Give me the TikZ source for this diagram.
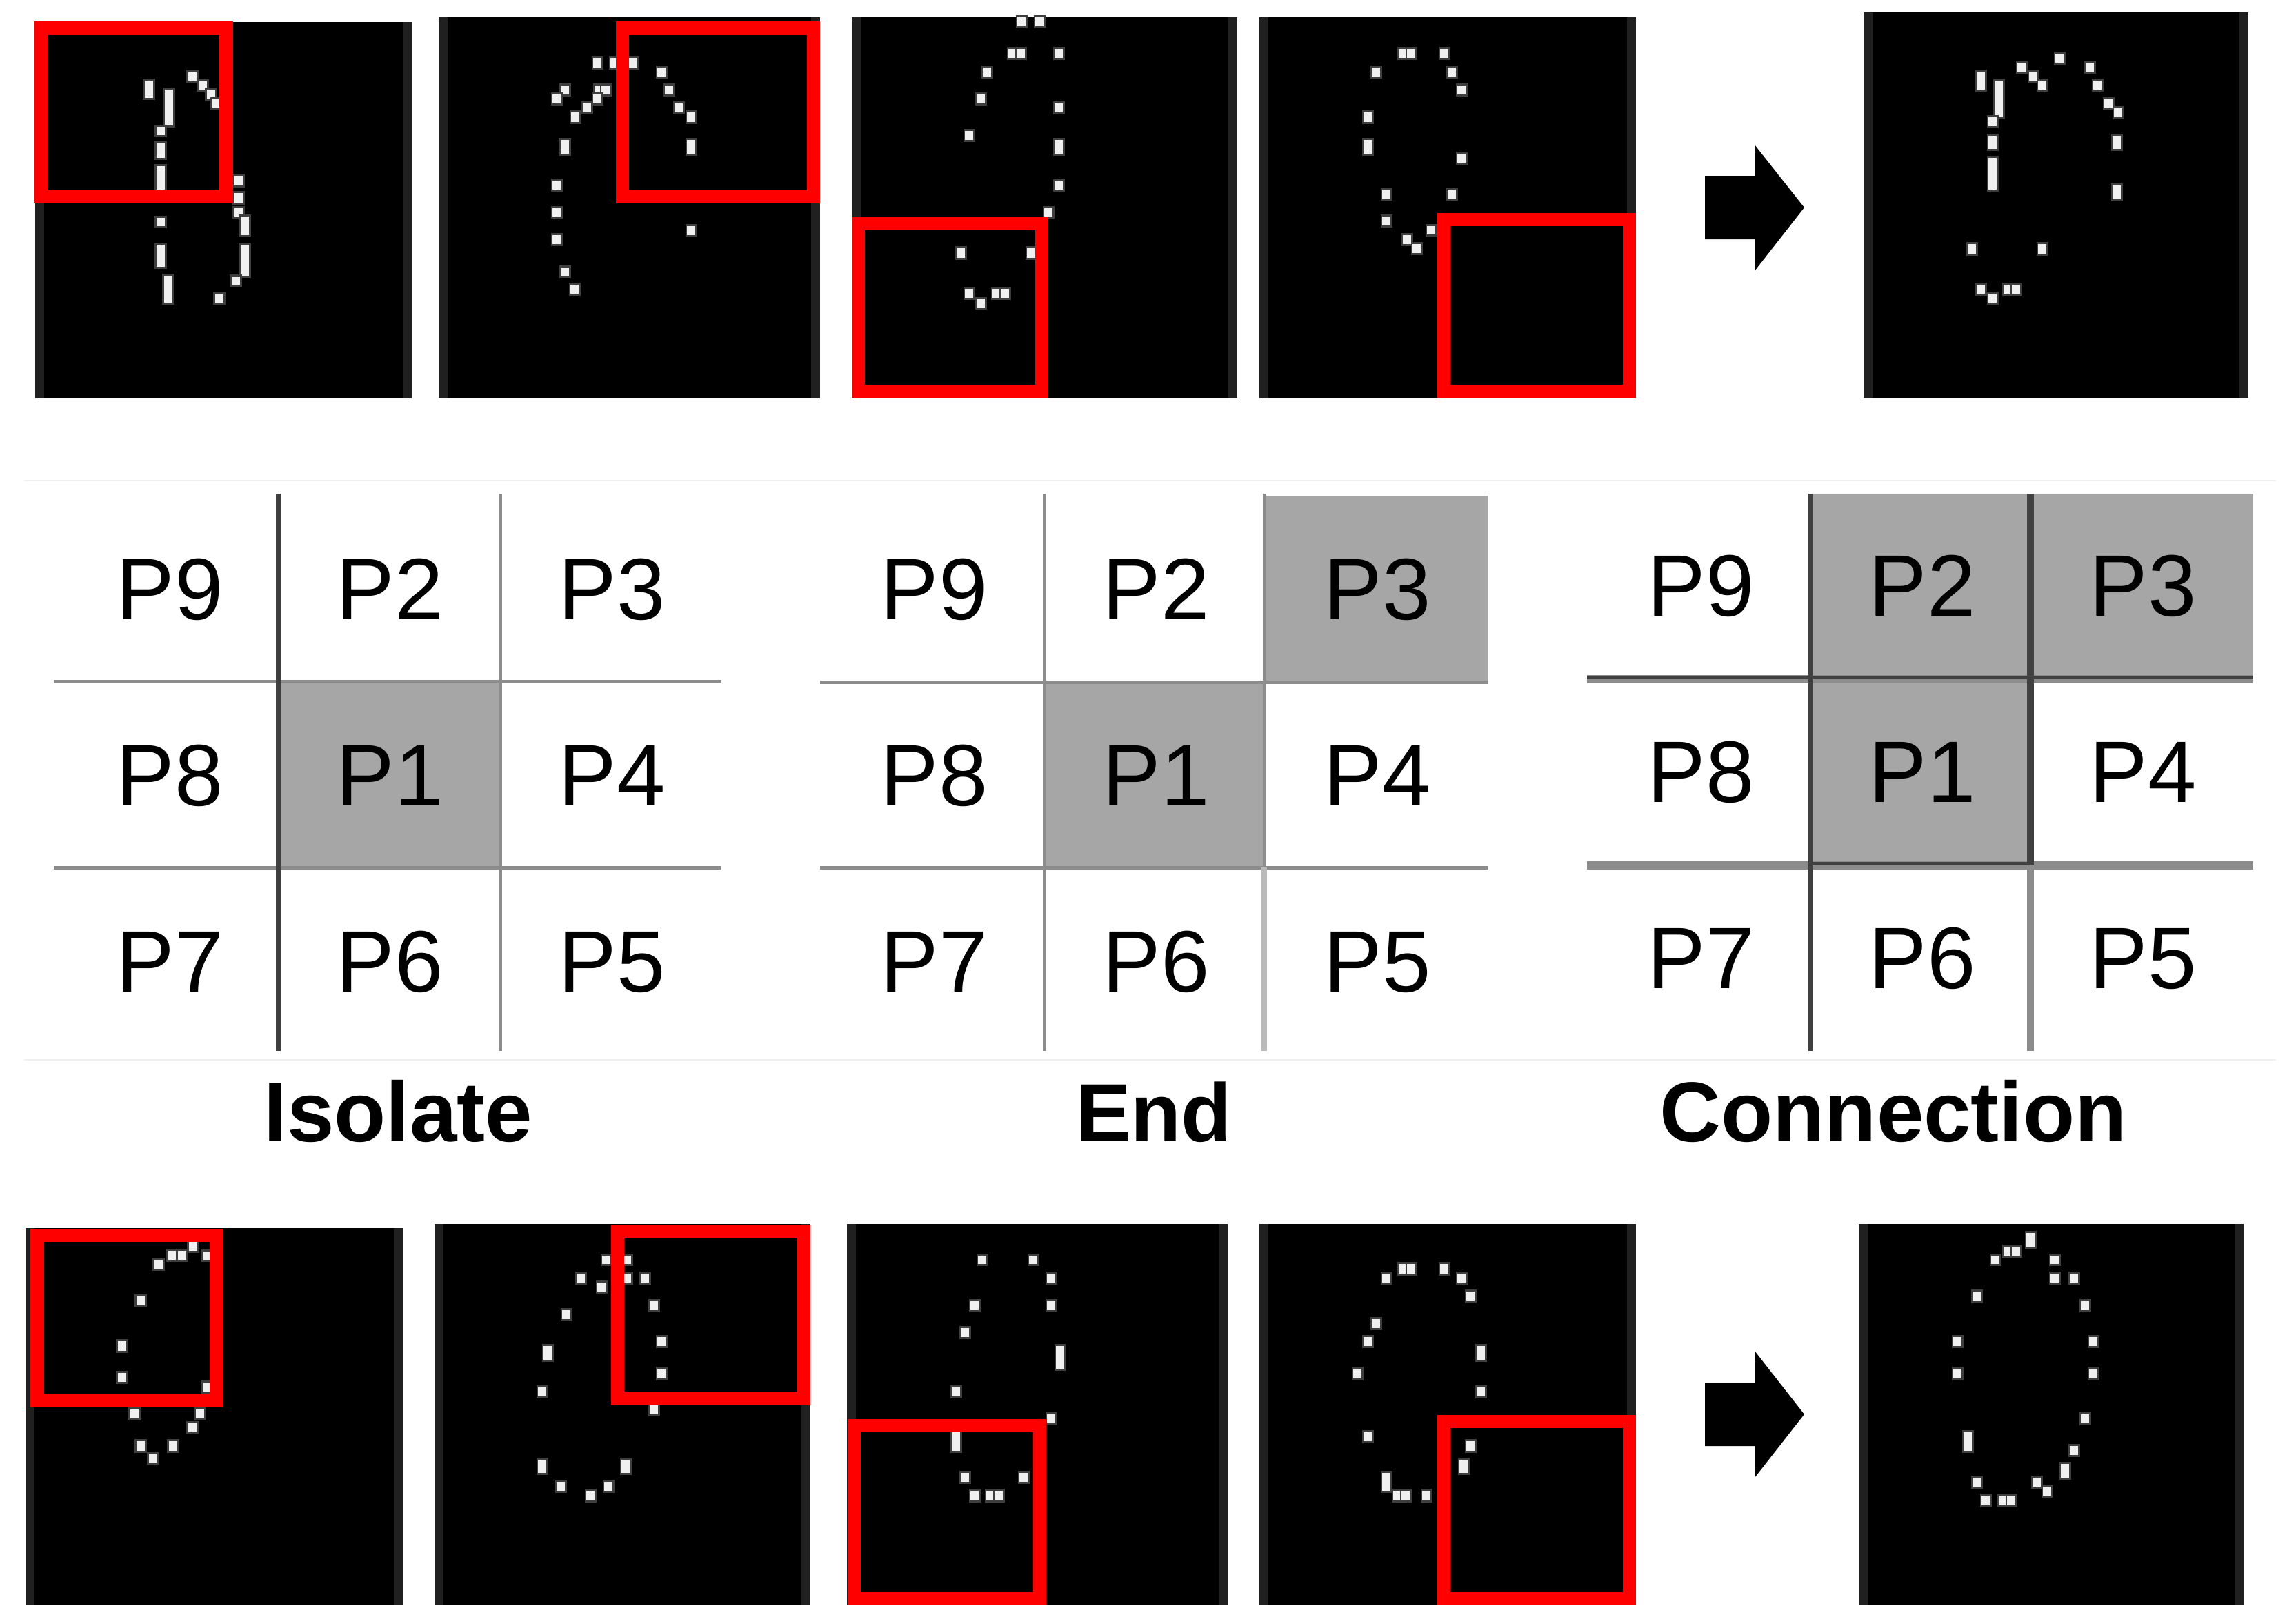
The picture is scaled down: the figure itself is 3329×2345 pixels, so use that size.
\documentclass[tikz,border=0pt]{standalone}
\usepackage{fontspec}
\setmainfont{Liberation Sans}
\usepackage{xcolor}
\usetikzlibrary{positioning}
\definecolor{cellgrey}{RGB}{166,166,166}
\definecolor{linegrey}{RGB}{140,140,140}
\definecolor{linedark}{RGB}{64,64,64}
\definecolor{bandgrey}{RGB}{32,32,32}
\definecolor{halogrey}{RGB}{62,62,62}
\definecolor{pixwhite}{RGB}{240,240,240}
\definecolor{framered}{RGB}{255,0,0}
\definecolor{hairgrey}{RGB}{240,240,240}
% black tile with slightly lighter side bands
\newcommand{\tile}[4]{
  \fill[bandgrey] (#1,#2) rectangle (#3,#4);
  \fill[black] (#1+13,#2) rectangle (#3-13,#4);
}
% bright strokes of a digit: x / top / bottom
\newcommand{\strokes}[1]{
  \foreach \sx/\sa/\sb in {#1} {
    \draw[pixhalo] (\sx,\sa) -- (\sx,\sb);
    \draw[pixcore] (\sx,\sa) -- (\sx,\sb);
  }
}

\begin{document}
\begin{tikzpicture}[x=0.01cm, y=-0.01cm,
    pixhalo/.style={draw=halogrey, line width=0.17cm, shorten <=-0.03cm, shorten >=-0.03cm},
    pixcore/.style={draw=pixwhite, line width=0.12cm},
    redbox/.style={draw=framered, line width=0.19cm},
    blockarrow/.style={fill=black},
    shade/.style={fill=cellgrey},
    gridlight/.style={draw=linegrey, line width=0.05cm},
    griddark/.style={draw=linedark, line width=0.07cm},
    hair/.style={draw=hairgrey, line width=0.02cm},
    cell/.style={anchor=base, inner sep=0pt, font=\fontsize{36}{40}\selectfont},
    caption/.style={anchor=base, inner sep=0pt, font=\fontsize{35}{40}\selectfont\bfseries}]
\useasboundingbox (0,0) rectangle (3329,2345);

% top row
\tile{51}{32}{597}{577}
\strokes{216/117/142, 245/130/182, 233/184/196, 233/208/229, 233/241/275, 279/105/117,
  294/118/130, 306/130/144, 314/144/156, 346/255/269, 346/280/295, 346/302/314,
  355/314/341, 233/316/328, 233/355/387, 355/355/400, 342/401/413, 244/400/439, 318/427/439}
\draw[redbox] (60,41) rectangle (328,285);

\tile{636}{25}{1189}{577}
\strokes{866/84/98, 891/84/98, 918/84/98, 959/98/111, 970/124/137, 819/124/137, 868/124/137,
  878/124/137, 807/137/150, 866/137/150, 851/150/163, 834/163/177, 984/150/163, 1002/163/177,
  819/203/223, 1002/203/223, 807/262/275, 807/302/314, 1002/328/341, 807/341/354,
  819/388/400, 833/413/426}
\draw[redbox] (902,41) rectangle (1179,285);

\tile{1235}{25}{1794}{577}
\strokes{1481/25/38, 1507/25/38, 1468/71/84, 1480/71/84, 1535/71/84, 1431/98/111, 1422/137/150,
  1535/150/163, 1405/190/203, 1535/203/223, 1535/263/275, 1520/302/314, 1393/360/374,
  1495/360/374, 1405/419/432, 1445/419/432, 1457/419/432, 1422/433/446}
\draw[redbox] (1244,324) rectangle (1510,567);

\tile{1826}{25}{2372}{577}
\strokes{2034/71/84, 2046/71/84, 2094/71/84, 1995/98/111, 2105/98/111, 2119/124/137, 1983/163/177,
  1983/203/223, 2119/223/236, 2010/275/288, 2105/275/288, 2010/314/327, 2040/341/354,
  2054/354/367, 2075/328/340}
\draw[redbox] (2093,318) rectangle (2362,567);

\fill[blockarrow] (2472,255) -- (2544,255) -- (2544,210) -- (2616,301)
  -- (2544,393) -- (2544,347) -- (2472,347) -- cycle;

\tile{2702}{18}{3260}{577}
\strokes{2986/78/91, 2931/91/104, 2948/104/117, 2961/117/130, 3030/91/104, 3041/117/130,
  2872/104/130, 2898/117/170, 2889/170/183, 2889/197/216, 2889/229/275, 3057/144/157,
  3071/157/170, 3069/197/216, 3069/269/289, 2859/354/368, 2961/354/368, 2872/413/426,
  2911/413/426, 2923/413/426, 2889/426/439}

% neighbourhood grids
\draw[hair] (35,697) -- (3300,697);
\draw[hair] (35,1537) -- (3300,1537);

% isolate
\fill[shade] (403,988) rectangle (725,1258);
\draw[gridlight] (78,988) -- (1046,988);
\draw[gridlight] (78,1258) -- (1046,1258);
\draw[griddark] (403,716) -- (403,1524);
\draw[gridlight] (725,716) -- (725,1524);
\foreach \lab/\cx/\cy in {P9/246/898, P2/565/898, P3/887/898, P8/246/1168, P1/565/1168,
    P4/887/1168, P7/246/1438, P6/565/1438, P5/887/1438}
  \node[cell] (iso\lab) at (\cx,\cy) {\lab};
\node[caption] (isolate) at (577,1655) {Isolate};

% end
\fill[shade] (1833,719) rectangle (2158,989);
\fill[shade] (1514,989) rectangle (1833,1258);
\draw[gridlight] (1189,989) -- (2158,989);
\draw[gridlight] (1189,1258) -- (2158,1258);
\draw[gridlight] (1514,716) -- (1514,1524);
\draw[gridlight] (1833,716) -- (1833,1258);
\draw[gridlight, draw=linegrey!60, line width=0.08cm] (1833,1258) -- (1833,1524);
\foreach \lab/\cx/\cy in {P9/1354/898, P2/1676/898, P3/1997/898, P8/1354/1168, P1/1676/1168,
    P4/1997/1168, P7/1354/1438, P6/1676/1438, P5/1997/1438}
  \node[cell] (end\lab) at (\cx,\cy) {\lab};
\node[caption, font=\fontsize{34}{40}\selectfont\bfseries] (endpoint) at (1673,1655) {End};

% connection
\fill[shade] (2625,716) rectangle (3267,983);
\fill[shade] (2625,983) rectangle (2944,1255);
\draw[gridlight, line width=0.12cm] (2301,985) -- (3267,985);
\draw[griddark, line width=0.05cm] (2301,982) -- (3267,982);
\draw[gridlight, line width=0.12cm] (2301,1255) -- (3267,1255);
\draw[griddark, line width=0.05cm] (2625,1252) -- (2944,1252);
\draw[griddark, line width=0.06cm] (2625,716) -- (2625,1524);
\draw[griddark, line width=0.1cm] (2944,716) -- (2944,1255);
\draw[gridlight, line width=0.1cm] (2944,1255) -- (2944,1524);
\foreach \lab/\cx/\cy in {P9/2466/893, P2/2787/893, P3/3107/893, P8/2466/1163, P1/2787/1163,
    P4/3107/1163, P7/2466/1433, P6/2787/1433, P5/3107/1433}
  \node[cell] (con\lab) at (\cx,\cy) {\lab};
\node[caption] (connection) at (2745,1655) {Connection};

% bottom row
\tile{37}{1781}{584}{2328}
\strokes{280/1800/1814, 250/1814/1827, 264/1814/1827, 230/1827/1840, 301/1815/1827, 204/1880/1893,
  177/1945/1959, 177/1991/2004, 301/2005/2018, 195/2044/2057, 290/2044/2057, 279/2064/2077,
  204/2090/2104, 251/2090/2104, 222/2108/2121}
\draw[redbox] (54,1791) rectangle (314,2031);

\tile{630}{1775}{1175}{2328}
\strokes{879/1821/1833, 909/1821/1833, 842/1847/1860, 872/1860/1873, 909/1847/1860, 935/1847/1860,
  948/1887/1900, 821/1900/1913, 959/1939/1952, 794/1952/1972, 959/1985/1999, 786/2012/2025,
  948/2038/2051, 786/2117/2136, 907/2117/2136, 813/2149/2162, 882/2149/2162, 856/2162/2176}
\draw[redbox] (895,1785) rectangle (1165,2028);

\tile{1228}{1775}{1780}{2328}
\strokes{1424/1821/1833, 1498/1821/1833, 1524/1847/1860, 1413/1887/1900, 1524/1887/1900,
  1399/1926/1939, 1537/1952/1985, 1386/2012/2025, 1524/2051/2064, 1386/2077/2104,
  1399/2136/2149, 1484/2136/2149, 1413/2162/2176, 1436/2162/2176, 1448/2162/2176}
\draw[redbox] (1238,2067) rectangle (1507,2318);

\tile{1826}{1775}{2372}{2328}
\strokes{2034/1833/1847, 2046/1833/1847, 2094/1833/1847, 2010/1847/1860, 2119/1847/1860,
  2132/1873/1887, 1995/1913/1926, 1983/1939/1952, 2147/1952/1972, 1968/1985/1999,
  2147/2012/2025, 1983/2077/2090, 2132/2090/2104, 2122/2117/2136, 2010/2136/2162,
  2026/2162/2176, 2038/2162/2176, 2068/2162/2176}
\draw[redbox] (2093,2061) rectangle (2362,2318);

\fill[blockarrow] (2472,2005) -- (2544,2005) -- (2544,1959) -- (2616,2051)
  -- (2544,2143) -- (2544,2097) -- (2472,2097) -- cycle;

\tile{2695}{1775}{3253}{2328}
\strokes{2944/1788/1808, 2911/1808/1821, 2923/1808/1821, 2893/1821/1833, 2979/1821/1833,
  2979/1847/1860, 3007/1847/1860, 2866/1873/1887, 3023/1887/1900, 2838/1939/1952,
  3035/1939/1952, 2838/1985/1999, 3035/1985/1999, 3023/2051/2064, 2853/2077/2104,
  3007/2097/2110, 2994/2123/2143, 2866/2143/2156, 2953/2143/2156, 2968/2156/2169,
  2879/2169/2183, 2904/2169/2183, 2916/2169/2183}
\end{tikzpicture}
\end{document}
